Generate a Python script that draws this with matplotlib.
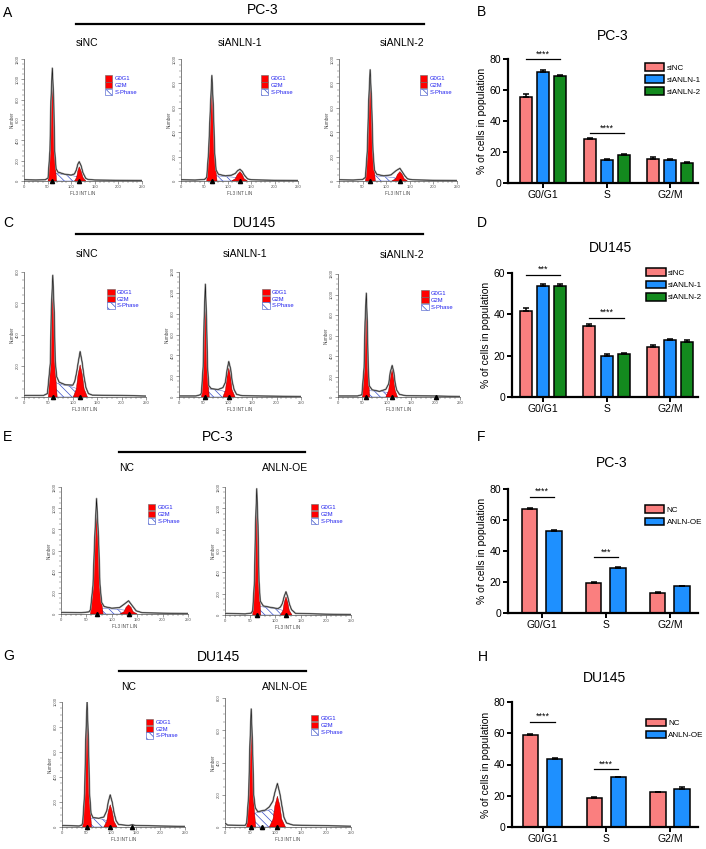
import matplotlib
matplotlib.use("Agg")
import matplotlib.pyplot as plt
from matplotlib.patches import Patch, Polygon
from matplotlib.lines import Line2D
from matplotlib.ticker import MultipleLocator

plt.rcParams["font.family"] = ["Liberation Sans", "DejaVu Sans"]
plt.rcParams["hatch.linewidth"] = 0.5

W, H = 706, 849

# ---- dados dos graficos de barras ----
fases = ["G0/G1", "S", "G2/M"]

# B - PC-3 siRNA
b_nomes = ["siNC", "siANLN-1", "siANLN-2"]
b_vals = [[55.6, 28.7, 15.7], [71.8, 15.1, 14.9], [69.0, 18.3, 13.1]]
b_err = [[1.5, 0.6, 1.3], [0.8, 0.6, 0.5], [0.9, 0.6, 0.6]]
b_sig = [(0, 80.0, "****"), (1, 32.3, "****")]

# D - DU145 siRNA
d_nomes = ["siNC", "siANLN-1", "siANLN-2"]
d_vals = [[41.8, 34.5, 24.3], [53.5, 19.9, 27.4], [53.8, 20.7, 26.6]]
d_err = [[1.4, 0.8, 1.0], [1.3, 0.9, 0.5], [0.9, 0.6, 1.2]]
d_sig = [(0, 59.2, "***"), (1, 38.4, "****")]

# F - PC-3 superexpressao
f_nomes = ["NC", "ANLN-OE"]
f_vals = [[66.8, 19.4, 13.0], [52.8, 29.0, 17.3]]
f_err = [[0.7, 0.5, 0.4], [0.9, 1.0, 0.4]]
f_sig = [(0, 75.0, "****"), (1, 35.9, "***")]

# H - DU145 superexpressao
h_nomes = ["NC", "ANLN-OE"]
h_vals = [[58.8, 18.5, 22.3], [43.3, 31.8, 24.6]]
h_err = [[0.8, 0.5, 0.4], [0.8, 0.3, 0.7]]
h_sig = [(0, 67.3, "****"), (1, 37.0, "****")]

cores3 = ["#fa7f7f", "#1e90ff", "#138a1e"]
cores2 = ["#fa7f7f", "#1e90ff"]

# ---- dados dos histogramas (FL3, contagem) ----
# env = contorno do histograma, picos = G0G1 e G2M, s = S-Phase, marcas = triangulos
a1_env = [(0, 12), (25, 10), (45, 12), (51, 30), (55, 300), (57, 780), (60, 1110), (63, 790), (65, 300), (68, 120),
          (72, 88), (85, 68), (100, 58), (107, 70), (111, 110), (114, 165), (117, 190), (121, 150), (125, 80),
          (131, 25), (136, 15), (150, 10), (200, 7), (250, 5)]
a1_picos = [[(51, 0), (55, 245), (57.3, 690), (60, 980), (62.7, 690), (65, 245), (69, 0)],
            [(107, 0), (111.5, 35), (114, 98), (117, 140), (121, 98), (125, 35), (131, 0)]]
a1_s = [(58, 0), (64, 80), (80, 66), (100, 55), (113, 42), (120, 0)]
a1_marcas = [60, 117]

a2_env = [(0, 10), (30, 8), (50, 12), (55, 30), (59, 240), (63, 620), (66, 865), (69, 620), (72, 230), (75, 90),
          (80, 55), (95, 42), (108, 48), (116, 62), (121, 85), (126, 96), (131, 78), (135, 50), (142, 18),
          (150, 10), (200, 6), (250, 4)]
a2_picos = [[(55, 0), (59, 200), (62.7, 560), (66, 808), (69.3, 560), (72, 200), (77, 0)],
            [(108, 0), (116, 19), (120.6, 54), (126, 77), (130.8, 54), (134.8, 19), (142, 0)]]
a2_s = [(63, 0), (70, 45), (90, 38), (110, 32), (124, 22), (128, 0)]
a2_marcas = [66, 126]

a3_env = [(0, 10), (30, 8), (50, 12), (56, 30), (60, 250), (63, 660), (66, 912), (69, 660), (72, 250), (75, 90),
          (80, 55), (95, 42), (110, 50), (121, 85), (129, 104), (134, 75), (139, 45), (145, 18), (155, 10),
          (200, 6), (250, 4)]
a3_picos = [[(56, 0), (60.5, 218), (63, 610), (66, 871), (69.3, 610), (72, 218), (77, 0)],
            [(112, 0), (120, 19), (124, 54), (129, 77), (134, 54), (138, 19), (145, 0)]]
a3_s = [(63, 0), (70, 45), (90, 38), (112, 30), (126, 20), (130, 0)]
a3_marcas = [66, 129]

c1_env = [(0, 10), (40, 10), (48, 22), (54, 220), (56, 560), (59, 779), (62, 540), (64, 230), (67, 130), (72, 95),
          (85, 78), (100, 76), (104, 100), (108, 160), (111, 220), (115, 291), (119, 225), (123, 130), (127, 60),
          (132, 22), (140, 12), (200, 10), (250, 6)]
c1_picos = [[(50, 0), (54, 180), (56.3, 508), (59, 726), (61.7, 508), (64, 180), (68, 0)],
            [(101, 0), (107.3, 52), (110.8, 144), (115, 206), (119.5, 144), (123.3, 52), (130, 0)]]
c1_s = [(56, 0), (63, 95), (75, 80), (95, 68), (110, 52), (118, 0)]
c1_marcas = [59, 115]

c2_env = [(0, 10), (35, 10), (44, 22), (46, 40), (49.5, 290), (51.5, 740), (54, 1083), (56.5, 740), (58.5, 290),
          (61, 110), (66, 80), (80, 72), (90, 90), (95, 140), (98.5, 260), (102, 341), (106, 265), (109, 150),
          (113, 70), (118, 25), (130, 12), (200, 8), (250, 5)]
c2_picos = [[(46, 0), (49.6, 247), (51.6, 690), (54, 987), (56.4, 690), (58.4, 247), (62, 0)],
            [(90, 0), (95.4, 69), (98.4, 194), (102, 277), (105.9, 194), (108.7, 69), (115, 0)]]
c2_s = [(52, 0), (58, 80), (70, 72), (85, 65), (98, 45), (104, 0)]
c2_marcas = [54, 102]

c3_env = [(0, 10), (40, 10), (49, 22), (53.5, 290), (55.5, 730), (58, 1013), (60, 730), (62, 290), (64, 110),
          (70, 70), (85, 55), (98, 75), (104, 130), (107, 240), (111, 308), (114.5, 240), (117, 140), (120, 70),
          (126, 25), (140, 12), (200, 10), (250, 5)]
c3_picos = [[(50, 0), (53.6, 245), (55.6, 686), (58, 980), (60.1, 686), (61.9, 245), (65, 0)],
            [(98, 0), (103.9, 67), (107.1, 186), (111, 266), (114.3, 186), (117, 67), (122, 0)]]
c3_s = [(56, 0), (62, 62), (75, 58), (95, 50), (108, 35), (113, 0)]
c3_marcas = [58, 111, 200]

e1_env = [(0, 15), (40, 12), (55, 20), (58, 40), (63, 270), (66.4, 720), (70, 1091), (74, 710), (76.7, 280),
          (80, 110), (85, 70), (100, 55), (115, 60), (125, 95), (133, 125), (140, 80), (148, 30), (160, 12),
          (200, 8), (250, 5)]
e1_picos = [[(58, 0), (63.4, 234), (66.4, 654), (70, 934), (73.9, 654), (76.7, 234), (83, 0)],
            [(116, 0), (124, 22), (128, 62), (133, 88), (138, 62), (142, 22), (150, 0)]]
e1_s = [(66, 0), (74, 60), (90, 50), (110, 45), (128, 35), (136, 0)]
e1_marcas = [70, 133]

e2_env = [(0, 15), (40, 10), (52, 18), (55, 40), (58.5, 320), (60.5, 840), (63, 1184), (65.5, 840), (67.5, 320),
          (70, 130), (76, 85), (90, 72), (105, 60), (110, 75), (114, 110), (117.5, 175), (121, 218), (124.5, 170),
          (128, 100), (132, 50), (140, 15), (200, 8), (250, 5)]
e2_picos = [[(55, 0), (58.6, 283), (60.6, 792), (63, 1131), (65.4, 792), (67.4, 283), (71, 0)],
            [(110, 0), (115, 43), (117.7, 120), (121, 171), (124.6, 120), (127.6, 43), (133, 0)]]
e2_s = [(61, 0), (68, 80), (85, 70), (105, 55), (118, 40), (124, 0)]
e2_marcas = [63, 121]

g1_env = [(0, 12), (35, 8), (40, 15), (42, 30), (46, 270), (48.3, 700), (51, 1000), (53.7, 700), (56, 270),
          (59, 110), (63, 75), (75, 70), (85, 80), (91, 130), (94, 200), (98, 257), (102, 200), (106, 110),
          (110, 50), (115, 20), (135, 12), (143, 18), (150, 12), (200, 8), (250, 5)]
g1_picos = [[(42, 0), (46, 230), (48.3, 644), (51, 920), (53.7, 644), (56, 230), (60, 0)],
            [(85, 0), (90.9, 45), (94.1, 125), (98, 178), (102.2, 125), (105.7, 45), (112, 0)]]
g1_s = [(49, 0), (55, 70), (70, 70), (85, 60), (96, 40), (100, 0)]
g1_marcas = [51, 98, 143]

g2_env = [(0, 25), (5, 12), (40, 10), (43, 25), (47, 200), (49.3, 500), (52, 732), (54.7, 500), (57, 200),
          (60, 120), (65, 95), (80, 105), (88, 125), (95, 160), (99, 215), (104, 270), (109, 205), (113, 130),
          (117, 60), (122, 25), (135, 12), (200, 8), (250, 5)]
g2_picos = [[(43, 0), (47, 153), (49.3, 430), (52, 613), (54.7, 430), (57, 153), (61, 0)],
            [(88, 0), (95.2, 48), (99.2, 134), (104, 191), (108.8, 134), (112.8, 48), (120, 0)]]
g2_s = [(50, 0), (57, 85), (75, 95), (92, 110), (102, 80), (108, 0)]
g2_marcas = [52, 73, 104]


fig = plt.figure(figsize=(W / 100, H / 100), dpi=100)


def eixo(x0, x1, ytopo, ybase):
    # eixo posicionado em pixels da imagem
    return fig.add_axes([x0 / W, 1 - ybase / H, (x1 - x0) / W, (ybase - ytopo) / H])


def texto(x, y, s, tam, ha="center"):
    fig.text(x / W, 1 - y / H, s, fontsize=tam, ha=ha, va="center")


def linha(x0, x1, y):
    fig.add_artist(Line2D([x0 / W, x1 / W], [1 - y / H, 1 - y / H], color="black", lw=1.6))


def histograma(ax, env, picos, s_fase, marcas, ymax):
    ax.add_patch(Polygon(s_fase, closed=True, facecolor="white", edgecolor="#3a50c8",
                         hatch="\\\\\\\\", lw=0.3, zorder=2))
    for pico in picos:
        ax.add_patch(Polygon(pico, closed=True, facecolor="#ff0000", edgecolor="#7a0000",
                             lw=0.3, zorder=3))
    xs = [p[0] for p in env]
    ys = [p[1] for p in env]
    ax.plot(xs, ys, color="0.6", lw=1.3, zorder=4)
    ax.plot(xs, ys, color="black", lw=0.35, zorder=5)
    ax.plot(marcas, [0] * len(marcas), "^", color="black", ms=3, clip_on=False, zorder=6)

    ax.set_xlim(0, 250)
    ax.set_ylim(0, ymax)
    for lado in ["top", "right"]:
        ax.spines[lado].set_visible(False)
    for lado in ["left", "bottom"]:
        ax.spines[lado].set_linewidth(0.5)
        ax.spines[lado].set_color("0.3")
    ax.xaxis.set_major_locator(MultipleLocator(50))
    ax.xaxis.set_minor_locator(MultipleLocator(10))
    ax.yaxis.set_major_locator(MultipleLocator(200))
    ax.yaxis.set_minor_locator(MultipleLocator(50))
    ax.tick_params(which="major", labelsize=3, length=2, width=0.4, pad=1, colors="0.3")
    ax.tick_params(which="minor", length=1.2, width=0.3, colors="0.3")
    for lb in ax.get_yticklabels():
        lb.set_rotation(90)
        lb.set_va("center")
    ax.set_xlabel("FL3 INT LIN", fontsize=3.3, labelpad=1, color="0.3")
    ax.set_ylabel("Number", fontsize=3.3, labelpad=1, color="0.3")

    alcas = [Patch(facecolor="#ff0000", edgecolor="0.4", lw=0.4),
             Patch(facecolor="#ff0000", edgecolor="0.4", lw=0.4),
             Patch(facecolor="white", edgecolor="#3a50c8", hatch="\\\\\\\\", lw=0.4)]
    ax.legend(alcas, ["G0G1", "G2M", "S-Phase"], loc="upper left", bbox_to_anchor=(0.66, 0.89),
              fontsize=4.2, frameon=False, labelcolor="#2222ee", handlelength=1.25,
              handleheight=1.25, handletextpad=0.4, labelspacing=0.12, borderpad=0)


def barras(ax, vals, errs, nomes, cores, largura, passo, xesq, ymax, ystep, sig, leg_y):
    n = len(vals)
    for i in range(n):
        xs = [g + (i - (n - 1) / 2) * passo for g in range(3)]
        ax.bar(xs, vals[i], largura, color=cores[i], edgecolor="black", lw=1.1, label=nomes[i], zorder=2)
        ax.errorbar(xs, vals[i], yerr=[[0, 0, 0], errs[i]], fmt="none", ecolor="black",
                    elinewidth=1.1, capsize=2.3, capthick=1.1, zorder=3)
    for g, y, estrelas in sig:
        x0 = g - (n - 1) / 2 * passo
        x1 = g + (n - 1) / 2 * passo
        ax.plot([x0, x1], [y, y], color="black", lw=0.9, clip_on=False)
        ax.text((x0 + x1) / 2, y + ymax * 0.005, estrelas, fontsize=6.5, ha="center", va="bottom")

    ax.set_xlim(xesq, 2.44)
    ax.set_ylim(0, ymax)
    ax.set_yticks(range(0, ymax + 1, ystep))
    ax.set_xticks(range(3))
    ax.set_xticklabels(fases)
    for lado in ["top", "right"]:
        ax.spines[lado].set_visible(False)
    for lado in ["left", "bottom"]:
        ax.spines[lado].set_linewidth(1.6)
    ax.tick_params(labelsize=7.5, length=3.5, width=1.4, pad=1.5)
    ax.set_ylabel("% of cells in population", fontsize=7.5, labelpad=2)
    ax.legend(loc="upper left", bbox_to_anchor=(0.7, leg_y), fontsize=5.8, frameon=False,
              handlelength=2.4, handleheight=1.1, handletextpad=0.3, labelspacing=0.45, borderpad=0)


# ---- linha A / B ----
texto(263, 10, "PC-3", 10)
linha(76, 424, 24)
texto(87, 43, "siNC", 7.5)
texto(240, 43, "siANLN-1", 7.5)
texto(402, 43, "siANLN-2", 7.5)
histograma(eixo(24, 142, 59, 181), a1_env, a1_picos, a1_s, a1_marcas, 1200)
histograma(eixo(181, 298, 59, 181), a2_env, a2_picos, a2_s, a2_marcas, 1000)
histograma(eixo(339, 457, 59, 181), a3_env, a3_picos, a3_s, a3_marcas, 1000)

ax_b = eixo(508, 698, 59, 183)
barras(ax_b, b_vals, b_err, b_nomes, cores3, 0.19, 0.27, -0.556, 80, 20, b_sig, 1.0)
texto(613, 36, "PC-3", 10)

# ---- linha C / D ----
texto(255, 223, "DU145", 10)
linha(76, 423, 234)
texto(87, 254, "siNC", 7.5)
texto(245, 254, "siANLN-1", 7.5)
texto(402, 255, "siANLN-2", 7.5)
histograma(eixo(24, 146, 272, 397), c1_env, c1_picos, c1_s, c1_marcas, 800)
histograma(eixo(179, 301, 272, 397), c2_env, c2_picos, c2_s, c2_marcas, 1200)
histograma(eixo(338, 460, 274, 397), c3_env, c3_picos, c3_s, c3_marcas, 1200)

ax_d = eixo(512, 698, 273, 397)
barras(ax_d, d_vals, d_err, d_nomes, cores3, 0.19, 0.27, -0.49, 60, 20, d_sig, 1.07)
texto(610, 248, "DU145", 10)

# ---- linha E / F ----
texto(218, 437, "PC-3", 10)
linha(119, 305, 452)
texto(127, 468, "NC", 7.5)
texto(285, 468, "ANLN-OE", 7.5)
histograma(eixo(61, 188, 487, 614), e1_env, e1_picos, e1_s, e1_marcas, 1200)
histograma(eixo(225, 351, 487, 615), e2_env, e2_picos, e2_s, e2_marcas, 1200)

ax_f = eixo(508, 698, 489, 613)
barras(ax_f, f_vals, f_err, f_nomes, cores2, 0.24, 0.38, -0.53, 80, 20, f_sig, 0.9)
texto(612, 463, "PC-3", 10)

# ---- linha G / H ----
texto(218, 657, "DU145", 10)
linha(119, 306, 671)
texto(129, 687, "NC", 7.5)
texto(285, 687, "ANLN-OE", 7.5)
histograma(eixo(62, 185, 702, 827), g1_env, g1_picos, g1_s, g1_marcas, 1000)
histograma(eixo(225, 351, 698, 827), g2_env, g2_picos, g2_s, g2_marcas, 800)

ax_h = eixo(512, 698, 702, 827)
barras(ax_h, h_vals, h_err, h_nomes, cores2, 0.24, 0.38, -0.48, 80, 20, h_sig, 0.9)
texto(605, 678, "DU145", 10)

# letras dos paineis
for letra, x, y in [("A", 3, 13), ("B", 477, 12), ("C", 3, 223), ("D", 477, 223),
                    ("E", 3, 437), ("F", 477, 437), ("G", 3, 656), ("H", 478, 657)]:
    texto(x, y, letra, 10, ha="left")

fig.savefig("out.png", dpi=100)
